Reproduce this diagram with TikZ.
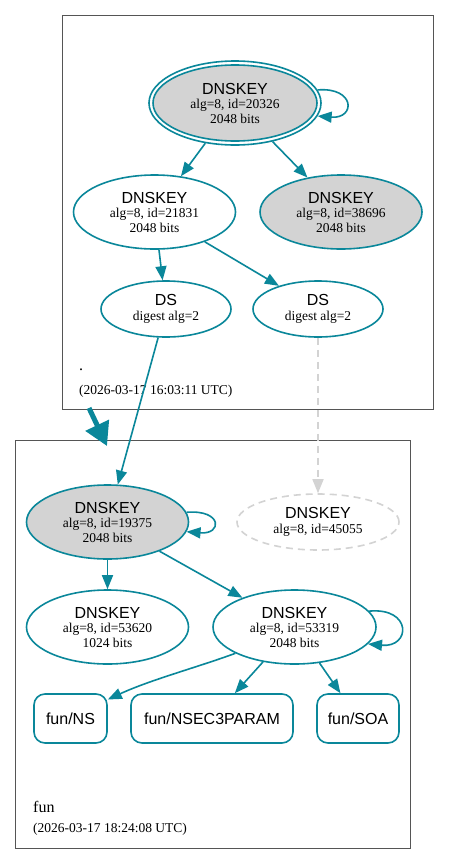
\documentclass[tikz,border=0pt]{standalone}
\usepackage{fontspec}
\setmainfont{Liberation Serif}
\setsansfont{Liberation Sans}
\usetikzlibrary{shapes.geometric,arrows.meta}
\definecolor{sec}{HTML}{0A879A}
\definecolor{lgray}{HTML}{D3D3D3}
\definecolor{frame}{HTML}{555555}
\newcommand{\bigsans}{\fontsize{16}{16}\selectfont\sffamily}
\newcommand{\keylbl}[3]{{\bigsans #1}\\#2\\#3}
\newcommand{\twolbl}[2]{{\bigsans #1}\\#2}
\begin{document}
\begin{tikzpicture}[x=1pt,y=-1pt,
  small/.style={font=\fontsize{13.5}{14.5}\selectfont},
  key/.style={ellipse, draw=sec, line width=1.6pt, inner sep=0pt, minimum width=162pt, minimum height=74pt, align=center, small},
  keyfill/.style={key, fill=lgray},
  dsnode/.style={key, minimum width=130pt, minimum height=56pt},
  rrnode/.style={rectangle, rounded corners=11pt, draw=sec, line width=1.6pt, minimum height=49pt, inner sep=0pt, font=\bigsans},
  edge/.style={draw=sec, line width=1.6pt, -{Triangle[length=14pt,width=11pt]}},
  grayedge/.style={draw=lgray, line width=1.6pt, dash pattern=on 7pt off 5pt, -{Triangle[length=14pt,width=11pt]}},
  cluster/.style={rectangle, draw=frame, line width=1pt, inner sep=0pt},
  clabel/.style={anchor=base west, inner sep=0pt}
]
\useasboundingbox[fill=white] (0,0) rectangle (449,865);

% clusters
\node[cluster, minimum width=371pt, minimum height=394pt] (rootzone) at (247.5,212) {};
\node[cluster, minimum width=395pt, minimum height=408pt] (funzone) at (212.5,644) {};

% root zone nodes
\node[ellipse, draw=sec, line width=1.6pt, minimum width=172pt, minimum height=84pt, inner sep=0pt] (kskout) at (235,103) {};
\node[keyfill, minimum width=164pt, minimum height=76pt] (ksk) at (235,103) {\keylbl{DNSKEY}{alg=8, id=20326}{2048 bits}};
\node[key] (k21831) at (154.5,212) {\keylbl{DNSKEY}{alg=8, id=21831}{2048 bits}};
\node[keyfill] (k38696) at (341,212) {\keylbl{DNSKEY}{alg=8, id=38696}{2048 bits}};
\node[dsnode] (dsl) at (166,309) {\twolbl{DS}{digest alg=2}};
\node[dsnode] (dsr) at (318,309) {\twolbl{DS}{digest alg=2}};
\node[clabel, font=\bigsans\rmfamily] (rootname) at (79,370) {.};
\node[clabel, small] (rootdate) at (79,394) {(2026-03-17 16:03:11 UTC)};

% fun zone nodes
\node[keyfill] (k19375) at (107.5,522) {\keylbl{DNSKEY}{alg=8, id=19375}{2048 bits}};
\node[key, draw=lgray, dash pattern=on 7pt off 5pt, minimum height=56pt] (k45055) at (318,522) {\twolbl{DNSKEY}{alg=8, id=45055}};
\node[key] (k53620) at (107.5,627) {\keylbl{DNSKEY}{alg=8, id=53620}{1024 bits}};
\node[key, minimum width=163pt] (k53319) at (294.5,627) {\keylbl{DNSKEY}{alg=8, id=53319}{2048 bits}};
\node[rrnode, minimum width=73pt] (fns) at (70.5,718.5) {fun/NS};
\node[rrnode, minimum width=162pt] (fnsec) at (212,718.5) {fun/NSEC3PARAM};
\node[rrnode, minimum width=82pt] (fsoa) at (358,718.5) {fun/SOA};
\node[clabel, font=\bigsans\rmfamily] (funname) at (33,812) {fun};
\node[clabel, small] (fundate) at (33,832) {(2026-03-17 18:24:08 UTC)};

% edges
\draw[edge] (kskout.9) .. controls +(38,-3) and +(38,3) .. (kskout.-9);
\draw[edge] (kskout) -- (k21831);
\draw[edge] (kskout) -- (k38696);
\draw[edge] (k21831) -- (dsl);
\draw[edge] (k21831) -- (dsr);
\draw[edge] (dsl) -- (k19375);
\draw[grayedge] (dsr) -- (k45055);
\draw[edge] (k19375.7) .. controls +(36,-3) and +(36,3) .. (k19375.-7);
\draw[edge] (k19375) -- (k53620);
\draw[edge] (k19375) -- (k53319);
\draw[edge] (k53319.12) .. controls +(43,-4) and +(43,4) .. (k53319.-13);
\draw[edge] (k53319.204) .. controls (195,668) and (150,680) .. (fns.27);
\draw[edge] (k53319) -- (fnsec);
\draw[edge] (k53319) -- (fsoa);

% delegation arrow between zones
\coordinate (dtail) at (89,408);
\coordinate (dhead) at (107,446);
\draw[sec, line width=5pt, -{Triangle[length=23pt,width=25pt]}] (dtail) -- (dhead);
\end{tikzpicture}
\end{document}
